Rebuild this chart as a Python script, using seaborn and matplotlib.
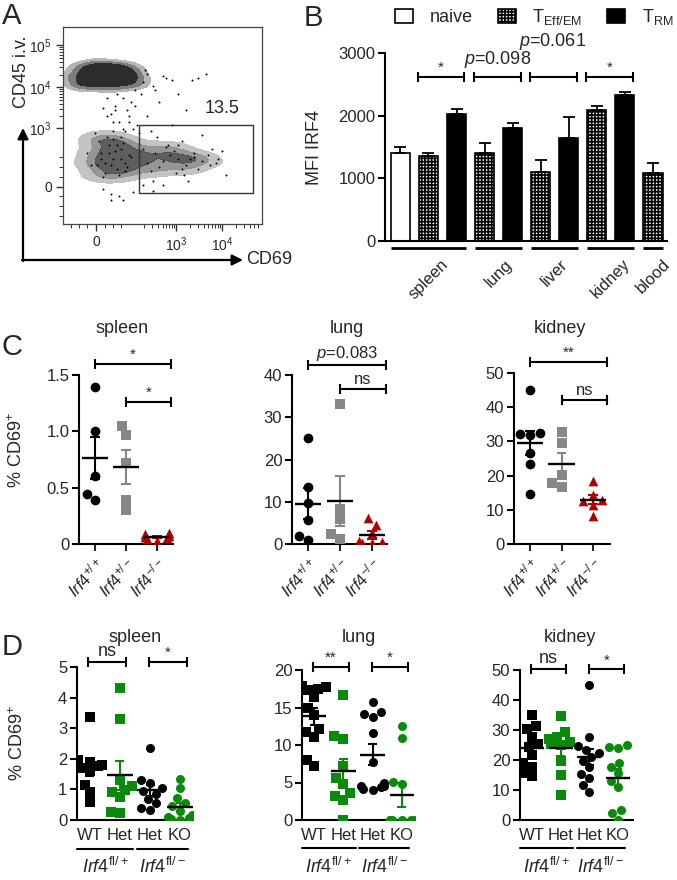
import numpy as np
import pandas as pd
import matplotlib
matplotlib.use('Agg')
import matplotlib.pyplot as plt
import seaborn as sns
from matplotlib.patches import Patch, Rectangle
from matplotlib.transforms import blended_transform_factory

# ---- panel A: CD45 i.v. vs CD69 events, positions in % of the plot box ----
flow_top_x = [6, 9, 12, 15, 18, 21, 24, 27, 30, 33, 36, 8, 12, 16, 20, 24, 28, 32, 36,
              10, 14, 18, 22, 26, 30, 34, 13, 19, 25, 31]
flow_top_y = [75, 73, 77, 74, 78, 75, 79, 74, 77, 75, 74, 71, 70, 72, 70, 71, 70, 72, 71,
              79, 80, 81, 80, 79, 80, 78, 76, 76, 76, 76]
flow_low_x = [17, 19, 21, 23, 25, 27, 29, 31, 33, 18, 20, 22, 24, 26, 28, 30, 32, 34, 19, 23,
              27, 31, 21, 25, 29, 38, 42, 46, 50, 54, 58, 62, 66, 70, 40, 48, 56, 64, 44, 52, 60]
flow_low_y = [30, 36, 26, 40, 33, 28, 38, 31, 35, 42, 24, 44, 30, 37, 25, 41, 29, 34, 33, 36,
              40, 27, 31, 43, 33, 34, 31, 36, 32, 35, 33, 30, 34, 32, 38, 29, 37, 33, 27, 39, 28]
flow_sparse_x = [40, 45, 52, 58, 65, 72, 62, 48, 55, 42, 36, 30, 33, 70, 75, 68, 78, 82, 60, 44,
                 50, 26, 22, 35, 28, 66, 47, 57, 74, 86, 39, 31, 24, 53, 63, 45, 41, 22, 26, 24,
                 28, 30, 25, 32, 20, 27, 34, 29, 42, 50, 55, 68, 20, 24, 30, 35, 40, 45, 14, 12,
                 16, 38, 36, 46, 73, 77, 80, 58, 61, 25, 33, 37]
flow_sparse_y = [72, 70, 74, 66, 73, 76, 58, 62, 50, 55, 60, 64, 52, 45, 38, 28, 33, 25, 42, 47,
                 20, 58, 55, 48, 14, 36, 44, 26, 30, 57, 66, 47, 12, 40, 22, 17, 78, 64, 60, 56,
                 52, 48, 47, 58, 59, 66, 62, 44, 76, 75, 73, 74, 18, 15, 12, 16, 20, 22, 30, 36,
                 46, 46, 68, 68, 35, 31, 37, 40, 25, 52, 55, 50]
gate_label = '13.5'

# ---- panel B: MFI IRF4 ----
b_organ = ['spleen', 'spleen', 'spleen', 'lung', 'lung', 'liver', 'liver', 'kidney', 'kidney', 'blood']
b_cell = ['naive', 'TEff', 'TRM', 'TEff', 'TRM', 'TEff', 'TRM', 'TEff', 'TRM', 'TEff']
b_mfi = [1410, 1360, 2020, 1400, 1810, 1100, 1640, 2090, 2330, 1080]
b_err = [85, 40, 90, 160, 70, 190, 340, 70, 40, 160]

# ---- panel C: % CD69+ in Irf4 +/+, +/-, -/- ----
c_labels = [r'$\mathit{Irf4}^{+/+}$', r'$\mathit{Irf4}^{+/-}$', r'$\mathit{Irf4}^{-/-}$']
c_spleen = [[1.39, 1.00, 0.60, 0.39, 0.44],
            [1.05, 0.97, 0.72, 0.39, 0.30],
            [0.10, 0.09, 0.07, 0.05, 0.04, 0.03, 0.06]]
c_lung = [[25.0, 13.6, 9.7, 5.7, 2.0, 0.9],
          [33.1, 8.3, 5.9, 2.3, 1.3],
          [6.1, 4.6, 2.5, 0.8, 0.4, 0.2, 0.3]]
c_kidney = [[45.0, 32.5, 32.3, 32.0, 26.5, 23.4, 14.6],
            [32.8, 29.4, 20.2, 17.7, 16.6],
            [18.3, 14.4, 13.0, 12.5, 11.5, 8.3]]

# ---- panel D: % CD69+ in Irf4 fl/+ and fl/- ----
d_labels = ['WT', 'Het', 'Het', 'KO']
d_spleen = [[3.35, 1.95, 1.9, 1.8, 1.75, 1.7, 1.6, 1.15, 0.9, 0.58],
            [4.33, 3.3, 1.3, 1.1, 0.98, 0.9, 0.74, 0.27, 0.22],
            [2.34, 1.3, 1.2, 1.05, 0.95, 0.85, 0.7, 0.55, 0.4, 0.33],
            [1.33, 1.03, 0.71, 0.55, 0.45, 0.3, 0.15, 0.1, 0.05, 0.02, 0.0]]
d_lung = [[17.9, 17.7, 17.5, 17.3, 16.4, 14.9, 14.0, 12.1, 11.8, 11.1, 8.0, 7.2],
          [16.7, 11.2, 10.8, 7.2, 5.6, 4.8, 3.6, 3.2, 2.7, 0.0],
          [15.7, 14.4, 14.2, 13.8, 11.6, 7.8, 5.0, 4.6, 4.5, 4.4, 4.2, 4.0],
          [12.5, 10.9, 5.1, 4.8, 0, 0, 0, 0, 0, 0]]
d_kidney = [[35.0, 31.3, 30.2, 27.6, 25.2, 24.5, 21.7, 18.9, 17.8, 15.6, 14.7],
            [34.7, 29.4, 27.8, 27.0, 26.0, 25.5, 25.0, 19.7, 15.0, 8.3],
            [45.0, 27.6, 24.8, 23.5, 22.5, 21.0, 19.7, 17.6, 15.5, 14.0, 11.7, 9.4],
            [25.0, 24.4, 23.9, 19.1, 17.6, 15.6, 13.0, 11.1, 3.3, 2.4, 0.0]]

sns.set_theme(style='ticks')
plt.rcParams['font.family'] = ['Liberation Sans', 'DejaVu Sans']
plt.rcParams['mathtext.fontset'] = 'custom'
plt.rcParams['mathtext.rm'] = 'Liberation Sans'
plt.rcParams['mathtext.it'] = 'Liberation Sans:italic'
plt.rcParams['hatch.linewidth'] = 1.2

W, H = 677, 880
fig = plt.figure(figsize=(W / 100, H / 100), dpi=100)


def px_axes(left, top, right, bottom):
    return fig.add_axes([left / W, 1 - bottom / H, (right - left) / W, (bottom - top) / H])


def fig_text(x, y, s, **kw):
    fig.text(x / W, 1 - y / H, s, **kw)


def style_axes(ax):
    sns.despine(ax=ax)
    for side in ['left', 'bottom']:
        ax.spines[side].set_linewidth(1.5)
        ax.spines[side].set_color('black')
    ax.tick_params(axis='y', length=5, width=1.5, labelsize=12, color='black', pad=2)


def bracket(ax, x1, x2, y, label, fs=12, h_px=5):
    y0, y1 = ax.get_ylim()
    h = h_px * (y1 - y0) / (ax.get_position().height * H)
    kw = dict(color='black', lw=1.5, clip_on=False, solid_capstyle='butt')
    ax.plot([x1, x2], [y, y], **kw)
    ax.plot([x1, x1], [y - h, y + h], **kw)
    ax.plot([x2, x2], [y - h, y + h], **kw)
    if label:
        ax.text((x1 + x2) / 2, y + h * 0.4, label, ha='center', va='bottom', fontsize=fs, clip_on=False)


def dot_panel(ax, values, colors, markers, size):
    cats = [str(i) for i in range(len(values))]
    for i, vals in enumerate(values):
        df = pd.DataFrame({'grp': cats[i], 'val': vals})
        sns.swarmplot(data=df, x='grp', y='val', order=cats, color=colors[i], marker=markers[i],
                      size=size, linewidth=0, warn_thresh=1, ax=ax, zorder=3)
        m = np.mean(vals)
        s = np.std(vals, ddof=1) / np.sqrt(len(vals))
        ax.vlines(i, m - s, m + s, color=colors[i], lw=1.5, zorder=6)
        ax.hlines([m - s, m + s], i - 0.15, i + 0.15, color=colors[i], lw=1.5, zorder=6)
        ax.hlines(m, i - 0.42, i + 0.42, color='black', lw=1.7, zorder=7)
    ax.set_xlabel('')
    ax.set_ylabel('')
    style_axes(ax)


# ================= A =================
axA = px_axes(63, 27, 262, 224)
top_cmap = sns.blend_palette(['#cccccc', '#555555', '#000000'], as_cmap=True)
low_cmap = sns.blend_palette(['#d4d4d4', '#7a7a7a', '#262626'], as_cmap=True)
sns.kdeplot(x=flow_top_x, y=flow_top_y, fill=True, cmap=top_cmap, levels=[0.03, 0.12, 0.3, 1],
            bw_adjust=0.9, ax=axA)
sns.kdeplot(x=flow_low_x, y=flow_low_y, fill=True, cmap=low_cmap, levels=[0.04, 0.2, 0.5, 1],
            bw_adjust=0.85, alpha=0.9, ax=axA)
sns.scatterplot(x=flow_sparse_x, y=flow_sparse_y, s=2, color='black', linewidth=0, ax=axA)
sns.scatterplot(x=flow_low_x, y=flow_low_y, s=2, color='black', linewidth=0, ax=axA)
axA.set_xlim(0, 100)
axA.set_ylim(0, 100)
axA.add_patch(Rectangle((38.3, 15.5), 57, 34.7, fill=False, lw=1, edgecolor='#333333'))
axA.text(80, 58.6, gate_label, ha='center', va='center', fontsize=13)
axA.set_xticks([16.8, 57, 80])
axA.set_xticklabels(['0', '$10^3$', '$10^4$'])
axA.set_yticks([18.9, 48.5, 69.3, 90.7])
axA.set_yticklabels(['0', '$10^3$', '$10^4$', '$10^5$'])
xminor = [4, 8, 12, 21, 25, 29] + [57 + 23 * np.log10(k) for k in range(2, 10)] + \
         [34 + 23 * np.log10(k) for k in range(2, 10)] + [80 + 23 * np.log10(k) for k in range(2, 7)]
yminor = [4, 9, 14, 24, 29, 34] + [48.5 + 20.8 * np.log10(k) for k in range(2, 10)] + \
         [69.3 + 21.4 * np.log10(k) for k in range(2, 10)]
axA.set_xticks(xminor, minor=True)
axA.set_yticks(yminor, minor=True)
axA.tick_params(which='major', length=5, width=1, labelsize=10, color='#333333', pad=3)
axA.tick_params(which='minor', length=3, width=0.7, color='#333333')
for sp in axA.spines.values():
    sp.set_linewidth(0.9)
    sp.set_color('#444444')
axA.set_xlabel('')
axA.set_ylabel('')
axA.annotate('', xy=(23 / W, 1 - 128 / H), xytext=(23 / W, 1 - 261 / H), xycoords='figure fraction',
             arrowprops=dict(arrowstyle='-|>', lw=1.6, color='black', mutation_scale=16, shrinkA=0, shrinkB=0),
             annotation_clip=False)
axA.annotate('', xy=(243 / W, 1 - 260 / H), xytext=(22 / W, 1 - 260 / H), xycoords='figure fraction',
             arrowprops=dict(arrowstyle='-|>', lw=1.6, color='black', mutation_scale=16, shrinkA=0, shrinkB=0),
             annotation_clip=False)
fig_text(246, 260, 'CD69', ha='left', va='center', fontsize=13)
fig_text(22, 72, 'CD45 i.v.', ha='center', va='center', rotation=90, fontsize=13)
fig_text(12, 16, 'A', ha='center', va='center', fontsize=21)

# ================= B =================
axB = px_axes(385, 53, 667, 241)
bar_ids = [f'{o} {c} {i}' for i, (o, c) in enumerate(zip(b_organ, b_cell))]
dfB = pd.DataFrame({'bar': bar_ids, 'cell': b_cell, 'MFI': b_mfi})
sns.barplot(data=dfB, x='bar', y='MFI', hue='cell', hue_order=['naive', 'TEff', 'TRM'],
            palette={'naive': 'white', 'TEff': 'white', 'TRM': 'black'}, dodge=False, width=0.68,
            edgecolor='black', linewidth=1.2, errorbar=None, legend=False, ax=axB)
for p in axB.patches:
    idx = int(round(p.get_x() + p.get_width() / 2))
    if 0 <= idx < len(b_cell) and b_cell[idx] == 'TEff':
        p.set_hatch('+++++')
axB.errorbar(range(len(b_mfi)), b_mfi, yerr=[np.zeros(len(b_err)), b_err], fmt='none',
             ecolor='black', elinewidth=1.3, capsize=4, capthick=1.3, zorder=5)
axB.set_xlim(-0.55, 9.5)
axB.set_ylim(0, 3000)
axB.set_yticks([0, 1000, 2000, 3000])
axB.set_xticks([])
axB.set_xlabel('')
axB.set_ylabel('MFI IRF4', fontsize=13)
axB.yaxis.set_label_coords((323 - 385) / 282, 0.5)
style_axes(axB)
organ_spans = {'spleen': (-0.34, 2.34), 'lung': (2.66, 4.34), 'liver': (4.66, 6.34),
               'kidney': (6.66, 8.34), 'blood': (8.66, 9.34)}
for name, (s, e) in organ_spans.items():
    axB.plot([s, e], [-112, -112], color='black', lw=2, clip_on=False, solid_capstyle='butt')
    axB.text((s + e) / 2, -250, name, rotation=45, ha='center', va='top', fontsize=12)
bracket(axB, 0.62, 2.28, 2616, '*', fs=11)
bracket(axB, 2.62, 4.28, 2616, '')
bracket(axB, 4.62, 6.28, 2616, '')
bracket(axB, 6.62, 8.28, 2616, '*', fs=11)
axB.text(3.45, 2890, r'$\mathit{p}$=0.098', ha='center', va='center', fontsize=13)
axB.text(5.41, 3190, r'$\mathit{p}$=0.061', ha='center', va='center', fontsize=13)
handles = [Patch(facecolor='white', edgecolor='black', lw=1.2),
           Patch(facecolor='white', edgecolor='black', hatch='+++++', lw=1.2),
           Patch(facecolor='black', edgecolor='black', lw=1.2)]
fig.legend(handles, ['naive', r'T$_{\mathrm{Eff/EM}}$', r'T$_{\mathrm{RM}}$'], loc='upper left',
           bbox_to_anchor=(388 / W, 1 - 0 / H), ncol=3, frameon=False, fontsize=13, handlelength=1.0,
           handleheight=0.75, columnspacing=1.4, handletextpad=0.9, borderaxespad=0)
fig_text(313, 18, 'B', ha='center', va='center', fontsize=21)

# ================= C =================
c_colors = ['black', '#878787', '#B00000']
c_markers = ['o', 's', '^']
c_specs = [
    (c_spleen, (79, 375, 173, 544), (-0.52, 2.52), (0, 1.5), [0, 0.5, 1.0, 1.5], ['0', '0.5', '1.0', '1.5'],
     'spleen', 122, [(0, 2.45, 1.6, '*'), (1, 2.45, 1.26, '*')]),
    (c_lung, (292, 375, 387, 544), (-0.5, 2.47), (0, 40), [0, 10, 20, 30, 40], None,
     'lung', 347, [(0, 2.45, 42.4, r'$\mathit{p}$=0.083'), (1, 2.45, 36.8, 'ns')]),
    (c_kidney, (514, 373, 610, 544), (-0.51, 2.54), (0, 50), [0, 10, 20, 30, 40, 50], None,
     'kidney', 560, [(0, 2.45, 53.3, '**'), (1, 2.45, 42.1, 'ns')]),
]
for vals, rect, xl, yl, yt, ytl, title, tx, brs in c_specs:
    ax = px_axes(*rect)
    dot_panel(ax, vals, c_colors, c_markers, 7)
    ax.set_xlim(*xl)
    ax.set_ylim(*yl)
    ax.set_yticks(yt)
    if ytl:
        ax.set_yticklabels(ytl)
    ax.set_xticks(range(3))
    ax.set_xticklabels(c_labels, rotation=45, ha='right', rotation_mode='anchor', fontsize=12)
    ax.tick_params(axis='x', length=5, width=1.5, pad=3)
    for x1, x2, y, lab in brs:
        bracket(ax, x1, x2, y, lab, fs=12 if lab not in ('*', '**') else 11)
    fig_text(tx, 328, title, ha='center', va='center', fontsize=13)
fig_text(17, 450, r'% CD69$^{+}$', ha='center', va='center', rotation=90, fontsize=13)
fig_text(12, 347, 'C', ha='center', va='center', fontsize=21)

# ================= D =================
d_colors = ['black', '#0A8A0A', 'black', '#0A8A0A']
d_markers = ['s', 's', 'o', 'o']
d_specs = [
    (d_spleen, (77, 667, 193, 820), (-0.43, 3.43), (0, 5), [0, 1, 2, 3, 4, 5], 'spleen', 135,
     [(-0.05, 1.2, 5.16, 'ns'), (1.98, 3.22, 5.16, '*')]),
    (d_lung, (302, 670, 415, 820), (-0.41, 3.45), (0, 20), [0, 5, 10, 15, 20], 'lung', 359,
     [(-0.05, 1.2, 20.4, '**'), (1.98, 3.22, 20.4, '*')]),
    (d_kidney, (520, 670, 633, 820), (-0.42, 3.52), (0, 50), [0, 10, 20, 30, 40, 50], 'kidney', 570,
     [(-0.05, 1.2, 50.2, 'ns'), (1.98, 3.22, 50.2, '*')]),
]
for vals, rect, xl, yl, yt, title, tx, brs in d_specs:
    ax = px_axes(*rect)
    dot_panel(ax, vals, d_colors, d_markers, 6.5)
    ax.set_xlim(*xl)
    ax.set_ylim(*yl)
    ax.set_yticks(yt)
    ax.set_xticks(range(4))
    ax.set_xticklabels(d_labels, fontsize=12)
    ax.tick_params(axis='x', length=0, pad=6)
    for x1, x2, y, lab in brs:
        bracket(ax, x1, x2, y, lab, fs=13 if lab == 'ns' else 11)
    trans = blended_transform_factory(ax.transData, ax.transAxes)
    for (s, e), lab in zip([(-0.42, 1.42), (1.55, 3.25)],
                           [r'$\mathit{Irf4}^{\mathrm{fl/+}}$', r'$\mathit{Irf4}^{\mathrm{fl/-}}$']):
        ax.plot([s, e], [-0.187, -0.187], color='black', lw=1.5, transform=trans, clip_on=False)
        ax.text((s + e) / 2, -0.31, lab, ha='center', va='center', fontsize=13, transform=trans)
    fig_text(tx, 637, title, ha='center', va='center', fontsize=13)
fig_text(18, 743, r'% CD69$^{+}$', ha='center', va='center', rotation=90, fontsize=13)
fig_text(12, 647, 'D', ha='center', va='center', fontsize=21)

fig.savefig('out.png', dpi=100)
